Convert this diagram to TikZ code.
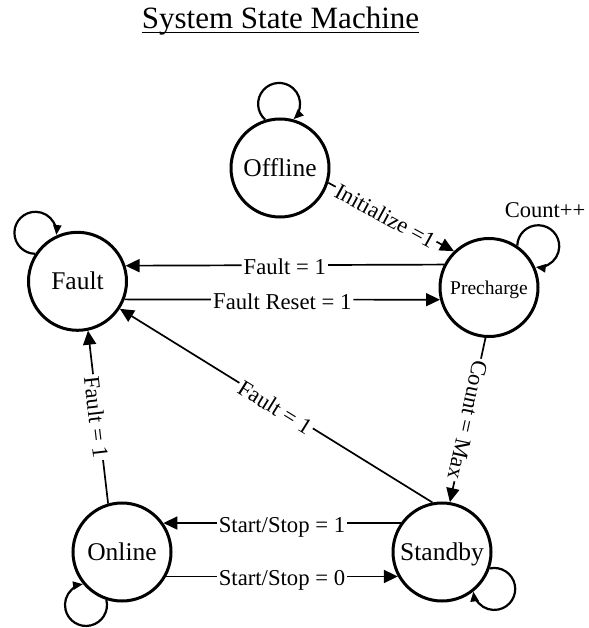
\documentclass[tikz,border=0pt]{standalone}
\usepackage{fontspec}
\setmainfont{Liberation Serif}
\usetikzlibrary{arrows.meta}
\begin{document}
\begin{tikzpicture}[x=1pt,y=1pt,
  state/.style={circle, draw, line width=3pt, minimum size=98pt, inner sep=0pt,
    font=\fontsize{25.5}{28}\selectfont, text height=17pt, text depth=0pt},
  conn/.style={line width=1.7pt, -{Triangle[length=14pt,width=13pt]}},
  selfloop/.style={line width=2.2pt, -{Triangle[length=10pt,width=8pt]}},
  elabel/.style={fill=white, inner xsep=2pt, inner ysep=1pt, sloped,
    font=\fontsize{22.7}{25}\selectfont, text height=19pt, text depth=-4pt},
  clabel/.style={fill=white, inner xsep=2pt, inner ysep=1pt, sloped, allow upside down,
    font=\fontsize{22.7}{25}\selectfont, text height=15pt, text depth=0pt},
]
\useasboundingbox (0,0) rectangle (588,-628);

% heading
\node[font=\fontsize{31}{34}\selectfont, inner sep=0pt, anchor=base] (title) at (280.5,-28.5) {System State Machine};
\draw[line width=1.4pt] ([yshift=-4.2pt]title.base west) -- ([yshift=-4.2pt]title.base east);

% states
\node[state] (offline) at (280,-168) {Offline};
\node[state] (fault) at (77.5,-281.3) {Fault};
\node[state, font=\fontsize{19.5}{22}\selectfont, text height=13pt] (pre) at (489,-287.5) {Precharge};
\node[state] (online) at (122,-552) {Online};
\node[state] (standby) at (442,-552) {Standby};

% self loops (clockwise arcs of radius 21)
\draw[selfloop] (offline.107.26) arc[start angle=228.67, end angle=-46.67, radius=21];
\draw[selfloop] (fault.147.86) arc[start angle=269.27, end angle=-6.07, radius=21];
\draw[selfloop] (pre.56.96) arc[start angle=178.37, end angle=-96.97, radius=21];
\draw[selfloop] (online.252.16) arc[start angle=373.57, end angle=98.23, radius=21];
\draw[selfloop] (standby.-19.14) arc[start angle=102.27, end angle=-173.07, radius=21];

\node[font=\fontsize{22.5}{25}\selectfont, inner sep=0pt, text height=15pt, text depth=0pt] (cnt) at (545,-210.5) {Count++};

% transitions
\draw[conn] (offline.-17) -- node[elabel, pos=0.46] {Initialize =1} (pre.134);
\draw[conn] (pre.153.5) -- node[elabel] {Fault = 1} (fault.18.8);
\draw[conn] (fault.-21.7) -- node[elabel] {Fault Reset = 1} (pre.194.3);
\draw[conn] (standby.101.5) -- node[elabel] {Fault = 1} (fault.-33);
\draw[conn] (online.106) -- node[elabel] {Fault = 1} (fault.-78);
\draw[conn] (pre.-94.5) -- node[clabel] {Count = Max} (standby.81);
\draw[conn] (standby.145) -- node[elabel] {Start/Stop = 1} (online.35);
\draw[conn] (online.-29.7) -- node[elabel] {Start/Stop = 0} (standby.209.7);
\end{tikzpicture}
\end{document}
